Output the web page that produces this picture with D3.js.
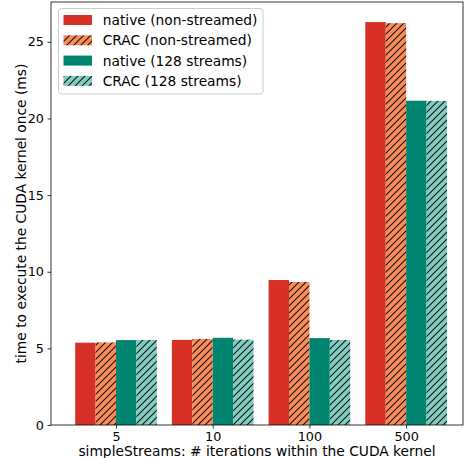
<!DOCTYPE html>
<html><head><meta charset="utf-8">
<script src="https://cdn.jsdelivr.net/npm/d3@7"></script>
<style>body{margin:0;background:#fff}svg{display:block}</style>
</head><body>
<svg id="chart" width="466" height="458"></svg>
<script>
const categories = ["5", "10", "100", "500"];
const seriesNames = ["native (non-streamed)", "CRAC (non-streamed)", "native (128 streams)", "CRAC (128 streams)"];
const nativeNonStreamed = [5.37, 5.55, 9.46, 26.29];
const cracNonStreamed = [5.39, 5.61, 9.33, 26.22];
const native128 = [5.54, 5.69, 5.67, 21.16];
const crac128 = [5.55, 5.57, 5.55, 21.15];
const yTicks = [0, 5, 10, 15, 20, 25];
const colors = ["#d73027", "#fc8d59", "#018571", "#80cdc1"];
const hatched = [false, true, false, true];
const series = [nativeNonStreamed, cracNonStreamed, native128, crac128];

const svg = d3.select("#chart");
const font = "DejaVu Sans, sans-serif";
const L = 51, R = 463, T = 2, B = 425;

const defs = svg.append("defs");
colors.forEach((c, i) => {
  if (!hatched[i]) return;
  const p = defs.append("pattern").attr("id", "hatch" + i)
    .attr("patternUnits", "userSpaceOnUse").attr("width", 7).attr("height", 7);
  p.append("rect").attr("width", 7).attr("height", 7).attr("fill", c);
  p.append("path").attr("d", "M-1,1 l2,-2 M0,7 l7,-7 M6,8 l2,-2")
    .attr("stroke", "#111").attr("stroke-width", 1.1);
});

const x = d3.scaleLinear().domain([-0.672, 3.588]).range([L, R]);
const y = d3.scaleLinear().domain([0, 27.6]).range([B, T]);
const bw = 0.211;

const g = svg.append("g");
series.forEach((vals, si) => {
  g.selectAll(null).data(vals).enter().append("rect")
    .attr("x", (d, i) => x(i + (si - 2) * bw))
    .attr("width", x(bw) - x(0))
    .attr("y", d => y(d))
    .attr("height", d => y(0) - y(d))
    .attr("fill", hatched[si] ? `url(#hatch${si})` : colors[si]);
});

// axes
const yAxis = d3.axisLeft(y).tickValues(yTicks).tickSize(3.5).tickPadding(3.5).tickFormat(d3.format("d"));
const gy = svg.append("g").attr("transform", `translate(${L},0)`).call(yAxis);
const xAxis = d3.axisBottom(x).tickValues(categories.map((c, i) => i)).tickSize(3.5).tickPadding(3.5)
  .tickFormat(i => categories[i]);
const gx = svg.append("g").attr("transform", `translate(0,${B})`).call(xAxis);
[gx, gy].forEach(a => {
  a.select(".domain").remove();
  a.selectAll("text").attr("font-family", font).attr("font-size", 12.8).attr("fill", "#000");
  a.selectAll("line").attr("stroke", "#000").attr("stroke-width", 0.8);
});
svg.append("rect").attr("x", L).attr("y", T).attr("width", R - L).attr("height", B - T)
  .attr("fill", "none").attr("stroke", "#000").attr("stroke-width", 0.8);

svg.append("text").attr("x", (L + R) / 2).attr("y", 456).attr("text-anchor", "middle")
  .attr("font-family", font).attr("font-size", 13.8).text("simpleStreams: # iterations within the CUDA kernel");
svg.append("text").attr("transform", `translate(26,${(T + B) / 2}) rotate(-90)`).attr("text-anchor", "middle")
  .attr("font-family", font).attr("font-size", 13.8).text("time to execute the CUDA kernel once (ms)");

// legend
const lg = svg.append("g");
lg.append("rect").attr("x", 58.5).attr("y", 8.5).attr("width", 204.5).attr("height", 85.5).attr("rx", 3)
  .attr("fill", "#fff").attr("fill-opacity", 0.8).attr("stroke", "#ccc").attr("stroke-width", 1);
seriesNames.forEach((n, i) => {
  const cy = 20 + i * 20.3;
  lg.append("rect").attr("x", 63.5).attr("y", cy - 5).attr("width", 28.5).attr("height", 10)
    .attr("fill", hatched[i] ? `url(#hatch${i})` : colors[i]);
  lg.append("text").attr("x", 102.7).attr("y", cy).attr("dy", "0.36em")
    .attr("font-family", font).attr("font-size", 13.8).text(n);
});
</script>
</body></html>
